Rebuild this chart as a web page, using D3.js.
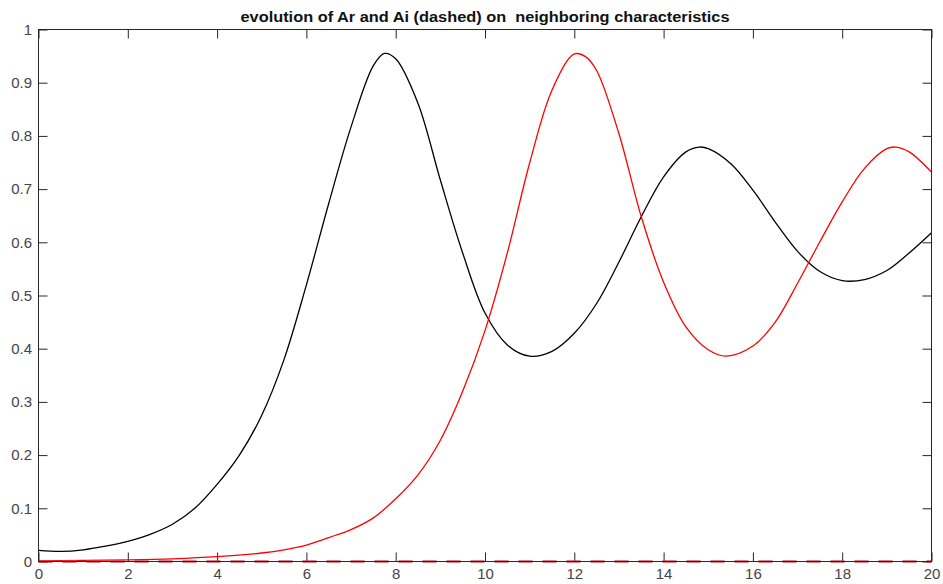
<!DOCTYPE html>
<html>
<head>
<meta charset="utf-8">
<script src="https://cdn.jsdelivr.net/npm/d3@7"></script>
<style>
  body { margin: 0; background: #fff; }
  svg { display: block; }
</style>
</head>
<body>
<div id="chart"></div>
<script>
// real part (solid) of the black characteristic
const arBlackX = [0, 0.5, 1, 1.5, 2, 2.5, 3, 3.5, 4, 4.5, 5, 5.5, 6, 6.5, 7, 7.5, 7.75, 8, 8.5, 9, 9.5, 10, 10.5, 11, 11.5, 12, 12.5, 13, 13.5, 14, 14.5, 14.8, 15, 15.5, 16, 16.5, 17, 17.5, 18, 18.5, 19, 19.5, 20];
const arBlack = [0.021, 0.019, 0.022, 0.029, 0.038, 0.051, 0.07, 0.1, 0.145, 0.2, 0.275, 0.38, 0.52, 0.673, 0.817, 0.932, 0.955, 0.945, 0.861, 0.717, 0.58, 0.467, 0.407, 0.386, 0.395, 0.429, 0.485, 0.563, 0.648, 0.723, 0.77, 0.779, 0.776, 0.748, 0.698, 0.638, 0.583, 0.545, 0.528, 0.53, 0.547, 0.58, 0.618];

// real part (solid) of the red characteristic
const arRedX = [0, 1, 2, 3, 4, 5, 5.5, 6, 6.5, 7, 7.5, 8, 8.5, 9, 9.5, 10, 10.5, 11, 11.5, 12, 12.25, 12.5, 13, 13.5, 14, 14.5, 15, 15.4, 16, 16.5, 17, 17.5, 18, 18.5, 19, 19.2, 19.5, 20];
const arRed = [0.001, 0.002, 0.003, 0.005, 0.009, 0.016, 0.022, 0.031, 0.045, 0.06, 0.082, 0.118, 0.163, 0.228, 0.32, 0.434, 0.58, 0.749, 0.886, 0.954, 0.949, 0.923, 0.804, 0.648, 0.525, 0.441, 0.398, 0.386, 0.405, 0.45, 0.523, 0.601, 0.676, 0.739, 0.776, 0.779, 0.77, 0.732];

// imaginary parts (dashed), flat at zero
const aiX = [0, 20];
const aiBlack = [0, 0];
const aiRed = [0, 0];

const xTicks = [0, 2, 4, 6, 8, 10, 12, 14, 16, 18, 20];
const yTicks = [0, 0.1, 0.2, 0.3, 0.4, 0.5, 0.6, 0.7, 0.8, 0.9, 1];

const width = 943;
const height = 584;
const margin = { top: 29.5, right: 11.5, bottom: 22.5, left: 38.5 };
const innerW = width - margin.left - margin.right;
const innerH = height - margin.top - margin.bottom;
const tickLen = 9;
const axisColor = "#262626";
const fontFamily = "'Liberation Sans', Arial, sans-serif";

const svg = d3
  .select("#chart")
  .append("svg")
  .attr("width", width)
  .attr("height", height);

const g = svg
  .append("g")
  .attr("transform", `translate(${margin.left},${margin.top})`);

const x = d3.scaleLinear().domain([0, 20]).range([0, innerW]);
const y = d3.scaleLinear().domain([0, 1]).range([innerH, 0]);

const line = (xs) =>
  d3
    .line()
    .x((d, i) => x(xs[i]))
    .y((d) => y(d))
    .curve(d3.curveCatmullRom.alpha(0.5));

svg
  .append("text")
  .attr("x", margin.left + innerW / 2)
  .attr("y", 21.5)
  .attr("text-anchor", "middle")
  .attr("textLength", 489)
  .attr("lengthAdjust", "spacingAndGlyphs")
  .style("font-family", fontFamily)
  .style("font-size", "14.5px")
  .style("font-weight", "bold")
  .style("white-space", "pre")
  .attr("fill", "#111")
  .text("evolution of Ar and Ai (dashed) on  neighboring characteristics");

// inward ticks on all four sides
const styleAxis = (sel) => {
  sel.select(".domain").remove();
  sel.selectAll("line").attr("stroke", axisColor);
  sel
    .selectAll("text")
    .attr("fill", "#444")
    .style("font-family", fontFamily)
    .style("font-size", "15px");
};

g.append("g")
  .attr("transform", `translate(0,${innerH})`)
  .call(d3.axisBottom(x).tickValues(xTicks).tickSize(-tickLen).tickPadding(6.5).tickFormat(d3.format("d")))
  .call(styleAxis);

g.append("g")
  .call(d3.axisTop(x).tickValues(xTicks).tickSize(-tickLen).tickFormat(""))
  .call(styleAxis);

g.append("g")
  .call(d3.axisLeft(y).tickValues(yTicks).tickSize(-tickLen).tickPadding(6.5).tickFormat((d) => String(+d.toFixed(1))))
  .call(styleAxis);

g.append("g")
  .attr("transform", `translate(${innerW},0)`)
  .call(d3.axisRight(y).tickValues(yTicks).tickSize(-tickLen).tickFormat(""))
  .call(styleAxis);

g.append("path")
  .attr("d", line(aiX)(aiBlack))
  .attr("fill", "none")
  .attr("stroke", "#000")
  .attr("stroke-width", 1.3)
  .attr("stroke-dasharray", "14,10");

g.append("path")
  .attr("d", line(arBlackX)(arBlack))
  .attr("fill", "none")
  .attr("stroke", "#000")
  .attr("stroke-width", 1.3);

g.append("path")
  .attr("d", line(arRedX)(arRed))
  .attr("fill", "none")
  .attr("stroke", "#ff0000")
  .attr("stroke-width", 1.3);

g.append("path")
  .attr("d", line(aiX)(aiRed))
  .attr("fill", "none")
  .attr("stroke", "#f0404f")
  .attr("stroke-width", 2.2)
  .attr("stroke-dasharray", "14,10");

g.append("rect")
  .attr("width", innerW)
  .attr("height", innerH)
  .attr("fill", "none")
  .attr("stroke", axisColor)
  .attr("stroke-width", 1);
</script>
</body>
</html>
